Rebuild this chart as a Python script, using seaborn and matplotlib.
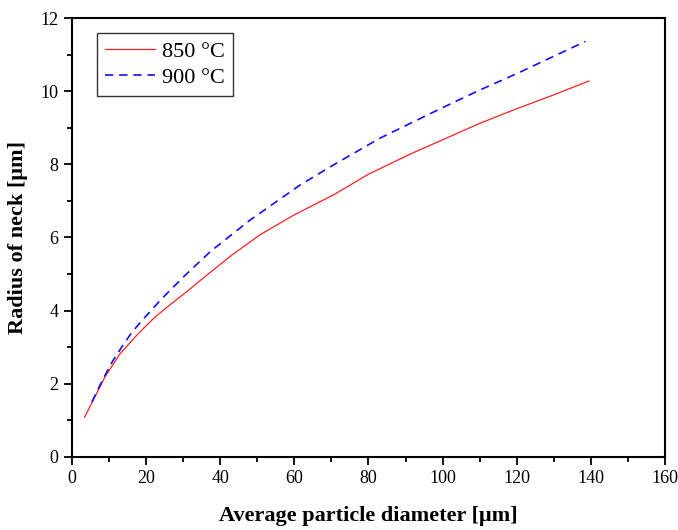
import matplotlib
matplotlib.use("Agg")
import matplotlib.pyplot as plt
from matplotlib.ticker import MultipleLocator
import seaborn as sns
import pandas as pd

# Data
d_850 = [3.4, 5.4, 7, 9, 13, 18, 22.5, 27, 31.5, 37, 43.2, 50.7, 60, 70.5, 80, 91.7, 100, 110, 120, 130, 139.5]
r_850 = [1.08, 1.48, 1.80, 2.20, 2.82, 3.38, 3.83, 4.20, 4.56, 5.02, 5.52, 6.07, 6.62, 7.16, 7.73, 8.30, 8.67, 9.12, 9.52, 9.90, 10.28]

d_900 = [5.4, 7, 8.5, 11, 13.5, 16, 19, 24.3, 30.6, 37.3, 48, 61.5, 70, 83, 100, 110, 120, 138.5]
r_900 = [1.50, 1.84, 2.14, 2.62, 3.01, 3.38, 3.74, 4.33, 4.97, 5.61, 6.47, 7.43, 7.95, 8.71, 9.55, 10.03, 10.48, 11.36]

labels = ["850 °C", "900 °C"]

sns.set_theme(style="ticks")
plt.rcParams["font.family"] = ["Liberation Serif", "DejaVu Serif"]
plt.rcParams["text.color"] = "black"
plt.rcParams["axes.labelcolor"] = "black"
plt.rcParams["xtick.color"] = "black"
plt.rcParams["ytick.color"] = "black"

fig = plt.figure(figsize=(6.78, 5.30), dpi=100)
ax = fig.add_axes([0.106, 0.138, 0.875, 0.828])

df1 = pd.DataFrame({"d": d_850, "r": r_850})
df2 = pd.DataFrame({"d": d_900, "r": r_900})
sns.lineplot(data=df1, x="d", y="r", ax=ax, color="#FF2020", lw=0.9, label=labels[0], sort=True)
sns.lineplot(data=df2, x="d", y="r", ax=ax, color="#1010FF", lw=1.2, label=labels[1], sort=True,
             linestyle=(0, (5, 3.5)))

ax.set_xlim(0, 160)
ax.set_ylim(0, 12)
ax.xaxis.set_major_locator(MultipleLocator(20))
ax.xaxis.set_minor_locator(MultipleLocator(10))
ax.yaxis.set_major_locator(MultipleLocator(2))
ax.yaxis.set_minor_locator(MultipleLocator(1))
ax.tick_params(which="major", direction="out", length=6, width=1.3, labelsize=13, colors="black",
               top=False, right=False)
ax.tick_params(which="minor", direction="out", length=3.5, width=1.3, top=False, right=False)
for s in ax.spines.values():
    s.set_visible(True)
    s.set_linewidth(1.5)
    s.set_color("black")

ax.set_xlabel("Average particle diameter [μm]", fontsize=16, fontweight="bold", labelpad=14, color="black")
ax.set_ylabel("Radius of neck [μm]", fontsize=16, fontweight="bold", labelpad=9, color="black")

leg = ax.legend(loc="upper left", bbox_to_anchor=(0.042, 0.965), borderaxespad=0, fontsize=16,
                frameon=True, fancybox=False, edgecolor="#333333", framealpha=1, handlelength=2.25,
                borderpad=0.35, labelspacing=0.25, handletextpad=0.35)
leg.get_frame().set_linewidth(1.0)

fig.savefig("out.png", dpi=100)
